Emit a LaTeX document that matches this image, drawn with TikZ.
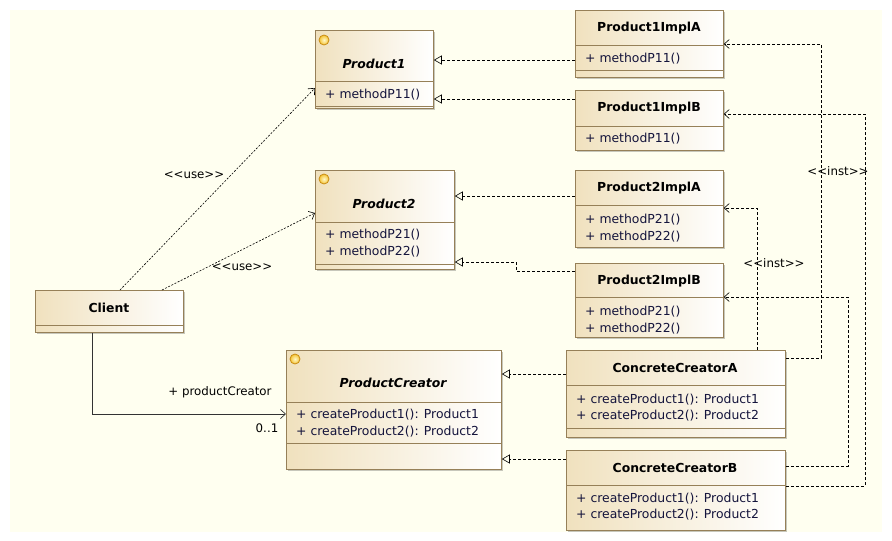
\documentclass[tikz,border=0pt]{standalone}
\usepackage{fontspec}
\setmainfont{DejaVu Sans}
\usetikzlibrary{arrows.meta,shadows}
\definecolor{bgc}{RGB}{255,255,240}
\definecolor{bord}{RGB}{150,128,88}
\definecolor{boxl}{RGB}{240,225,190}
\definecolor{mtext}{RGB}{20,20,60}
\definecolor{icf}{RGB}{245,195,50}
\definecolor{ici}{RGB}{255,248,200}
\definecolor{icb}{RGB}{200,140,20}
\begin{document}
\begin{tikzpicture}[x=1pt,y=-1pt,
  cbox/.style={draw=bord, line width=0.8pt, left color=boxl, right color=white, inner sep=0, anchor=north west,
    drop shadow={shadow xshift=1.5pt, shadow yshift=-1.5pt, fill=black, opacity=0.22}},
  sepl/.style={draw=bord, line width=0.8pt},
  nm/.style={font=\fontsize{12.4}{14}\selectfont\bfseries, inner sep=0},
  anm/.style={font=\fontsize{12.4}{14}\selectfont\bfseries\itshape, inner sep=0},
  mt/.style={font=\fontsize{12.4}{14}\selectfont, text=mtext, anchor=west, inner sep=0},
  lbl/.style={font=\fontsize{11.8}{14}\selectfont, inner sep=0},
  icon/.style={circle, draw=icb, line width=0.8pt, inner color=ici, outer color=icf, minimum size=10pt, inner sep=0},
  real/.style={draw=black, line width=0.6pt, dash pattern=on 3pt off 2pt, -{Triangle[open, length=8pt, width=9pt]}},
  dep/.style={draw=black, line width=0.6pt, dash pattern=on 3pt off 2pt, -{Straight Barb[length=5pt, width=9pt]}},
  dot/.style={draw=black, line width=0.6pt, dash pattern=on 2pt off 1.5pt, -{Straight Barb[length=5pt, width=9pt]}},
  assoc/.style={draw=black!80, line width=0.7pt, -{Straight Barb[length=5pt, width=9pt]}}
]
\useasboundingbox (0,0) rectangle (892,541);
\fill[white] (0,0) rectangle (892,541);
\fill[bgc] (10,10) rectangle (882,532);

% ---- boxes ----
\node[cbox, minimum width=118pt, minimum height=78pt] (p1) at (315,30) {};
\node[cbox, minimum width=148pt, minimum height=67pt] (p1a) at (575,10) {};
\node[cbox, minimum width=148pt, minimum height=60pt] (p1b) at (575,90) {};
\node[cbox, minimum width=139pt, minimum height=99pt] (p2) at (315,170) {};
\node[cbox, minimum width=148pt, minimum height=77pt] (p2a) at (575,170) {};
\node[cbox, minimum width=148pt, minimum height=74pt] (p2b) at (575,263) {};
\node[cbox, minimum width=148pt, minimum height=42pt] (cl) at (35,290) {};
\node[cbox, minimum width=215pt, minimum height=119pt] (pc) at (286,350) {};
\node[cbox, minimum width=219pt, minimum height=87pt] (cca) at (566,350) {};
\node[cbox, minimum width=219pt, minimum height=80pt] (ccb) at (566,450) {};

% ---- compartments ----
\draw[sepl] (p1.west |- 0,81) -- (p1.east |- 0,81);
\draw[sepl] (p1.west |- 0,106) -- (p1.east |- 0,106);
\draw[sepl] (p1a.west |- 0,45) -- (p1a.east |- 0,45);
\draw[sepl] (p1a.west |- 0,70) -- (p1a.east |- 0,70);
\draw[sepl] (p1b.west |- 0,126) -- (p1b.east |- 0,126);
\draw[sepl] (p2.west |- 0,222) -- (p2.east |- 0,222);
\draw[sepl] (p2.west |- 0,264) -- (p2.east |- 0,264);
\draw[sepl] (p2a.west |- 0,205) -- (p2a.east |- 0,205);
\draw[sepl] (p2b.west |- 0,297) -- (p2b.east |- 0,297);
\draw[sepl] (cl.west |- 0,325) -- (cl.east |- 0,325);
\draw[sepl] (pc.west |- 0,402) -- (pc.east |- 0,402);
\draw[sepl] (pc.west |- 0,443) -- (pc.east |- 0,443);
\draw[sepl] (cca.west |- 0,385) -- (cca.east |- 0,385);
\draw[sepl] (cca.west |- 0,428) -- (cca.east |- 0,428);
\draw[sepl] (ccb.west |- 0,485) -- (ccb.east |- 0,485);

% ---- icons ----
\node[icon] (p1i) at (324,40) {};
\node[icon] (p2i) at (324,179) {};
\node[icon] (pci) at (295,359) {};

% ---- texts ----
\node[anm] (p1n) at (374,64) {Product1};
\node[mt] (p1m) at (325,95) {+ methodP11()};
\node[nm] (p1an) at (649,28) {Product1ImplA};
\node[mt] (p1am) at (585,59) {+ methodP11()};
\node[nm] (p1bn) at (649,108) {Product1ImplB};
\node[mt] (p1bm) at (585,139) {+ methodP11()};
\node[anm] (p2n) at (384,204) {Product2};
\node[mt] (p2m1) at (325,235) {+ methodP21()};
\node[mt] (p2m2) at (325,252) {+ methodP22()};
\node[nm] (p2an) at (649,188) {Product2ImplA};
\node[mt] (p2am1) at (585,220) {+ methodP21()};
\node[mt] (p2am2) at (585,237) {+ methodP22()};
\node[nm] (p2bn) at (649,281) {Product2ImplB};
\node[mt] (p2bm1) at (585,312) {+ methodP21()};
\node[mt] (p2bm2) at (585,329) {+ methodP22()};
\node[nm] (cln) at (109,308) {Client};
\node[anm] (pcn) at (393,383) {ProductCreator};
\node[mt] (pcm1) at (296,415) {+ createProduct1(): Product1};
\node[mt] (pcm2) at (296,432) {+ createProduct2(): Product2};
\node[nm] (ccan) at (675,368) {ConcreteCreatorA};
\node[mt] (ccam1) at (576,400) {+ createProduct1(): Product1};
\node[mt] (ccam2) at (576,416) {+ createProduct2(): Product2};
\node[nm] (ccbn) at (675,468) {ConcreteCreatorB};
\node[mt] (ccbm1) at (576,499) {+ createProduct1(): Product1};
\node[mt] (ccbm2) at (576,515) {+ createProduct2(): Product2};

% ---- realizations ----
\draw[real] (p1a.west |- 0,60) -- (p1.east |- 0,60);
\draw[real] (p1b.west |- 0,99) -- (p1.east |- 0,99);
\draw[real] (p2a.west |- 0,196) -- (p2.east |- 0,196);
\draw[real] (p2b.west |- 0,271) -- (516,271) -- (516,262) -- (p2.east |- 0,262);
\draw[real] (cca.west |- 0,374) -- (pc.east |- 0,374);
\draw[real] (ccb.west |- 0,459) -- (pc.east |- 0,459);

% ---- use dependencies ----
\draw[dot] (cl.north -| 120,0) -- (p1.west |- 0,88);
\draw[dot] (cl.north -| 162,0) -- (p2.west |- 0,213);
\node[lbl] (u1) at (194,175) {<{}<use>{}>};
\node[lbl] (u2) at (242,267) {<{}<use>{}>};

% ---- association ----
\draw[assoc] (cl.south -| 92,0) |- (pc.west |- 0,414);
\node[lbl] (ar) at (220,392) {+ productCreator};
\node[lbl] (am) at (267,428) {0..1};

% ---- inst dependencies ----
\draw[dep] (cca.east |- 0,358) -- (821,358) -- (821,44) -- (p1a.east |- 0,44);
\draw[dep] (ccb.east |- 0,486) -- (865,486) -- (865,114) -- (p1b.east |- 0,114);
\draw[dep] (cca.north -| 757,0) -- (757,208) -- (p2a.east |- 0,208);
\draw[dep] (ccb.east |- 0,466) -- (848,466) -- (848,297) -- (p2b.east |- 0,297);
\node[lbl] (i1) at (838,171) {<{}<inst>{}>};
\node[lbl] (i2) at (774,263) {<{}<inst>{}>};
\end{tikzpicture}
\end{document}
